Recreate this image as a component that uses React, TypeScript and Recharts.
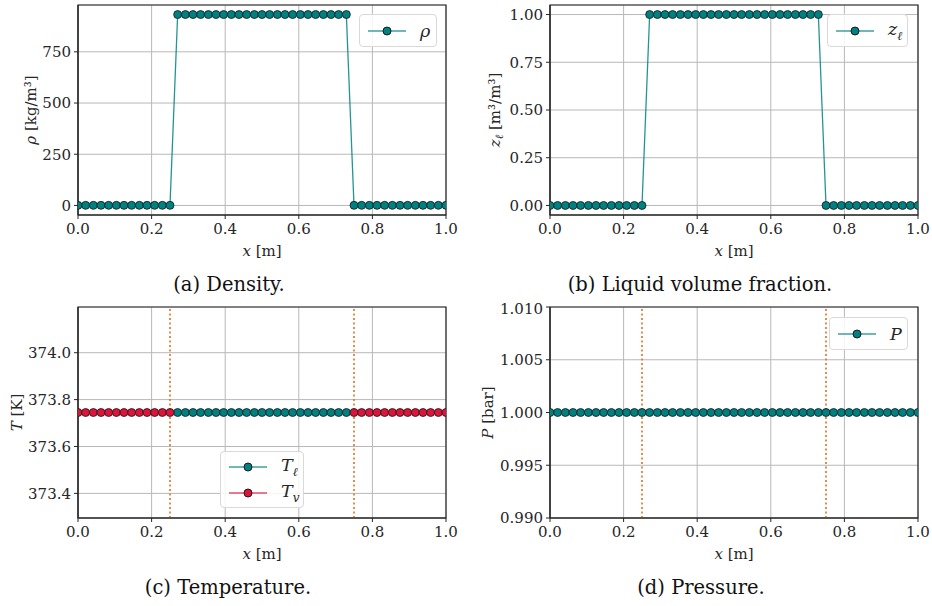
import React from "react";
import {
  LineChart,
  Line,
  XAxis,
  YAxis,
  CartesianGrid,
  ReferenceLine,
  ReferenceArea,
  Label,
} from "recharts";

// ---------- data ----------
const xPositions = [
  0, 0.0208, 0.0417, 0.0625, 0.0833, 0.1042, 0.125, 0.1458, 0.1667, 0.1875,
  0.2083, 0.2292, 0.25, 0.2708, 0.2917, 0.3125, 0.3333, 0.3542, 0.375, 0.3958,
  0.4167, 0.4375, 0.4583, 0.4792, 0.5, 0.5208, 0.5417, 0.5625, 0.5833, 0.6042,
  0.625, 0.6458, 0.6667, 0.6875, 0.7083, 0.7292, 0.75, 0.7708, 0.7917, 0.8125,
  0.8333, 0.8542, 0.875, 0.8958, 0.9167, 0.9375, 0.9583, 0.9792, 1.0,
];

const density = [
  0.59, 0.59, 0.59, 0.59, 0.59, 0.59, 0.59, 0.59, 0.59, 0.59, 0.59, 0.59, 0.59,
  932, 932, 932, 932, 932, 932, 932, 932, 932, 932, 932, 932, 932, 932, 932, 932,
  932, 932, 932, 932, 932, 932, 932,
  0.59, 0.59, 0.59, 0.59, 0.59, 0.59, 0.59, 0.59, 0.59, 0.59, 0.59, 0.59, 0.59,
];

const liquidFraction = [
  0, 0, 0, 0, 0, 0, 0, 0, 0, 0, 0, 0, 0,
  1, 1, 1, 1, 1, 1, 1, 1, 1, 1, 1, 1, 1, 1, 1, 1, 1, 1, 1, 1, 1, 1, 1,
  0, 0, 0, 0, 0, 0, 0, 0, 0, 0, 0, 0, 0,
];

const N = null;
const tempLiquid = [
  N, N, N, N, N, N, N, N, N, N, N, N, N,
  373.745, 373.745, 373.745, 373.745, 373.745, 373.745, 373.745, 373.745,
  373.745, 373.745, 373.745, 373.745, 373.745, 373.745, 373.745, 373.745,
  373.745, 373.745, 373.745, 373.745, 373.745, 373.745, 373.745,
  N, N, N, N, N, N, N, N, N, N, N, N, N,
];

const tempVapor = [
  373.745, 373.745, 373.745, 373.745, 373.745, 373.745, 373.745, 373.745,
  373.745, 373.745, 373.745, 373.745, 373.745,
  N, N, N, N, N, N, N, N, N, N, N, N, N, N, N, N, N, N, N, N, N, N, N,
  373.745, 373.745, 373.745, 373.745, 373.745, 373.745, 373.745, 373.745,
  373.745, 373.745, 373.745, 373.745, 373.745,
];

const pressure = [
  1, 1, 1, 1, 1, 1, 1, 1, 1, 1, 1, 1, 1, 1, 1, 1, 1, 1, 1, 1, 1, 1, 1, 1, 1,
  1, 1, 1, 1, 1, 1, 1, 1, 1, 1, 1, 1, 1, 1, 1, 1, 1, 1, 1, 1, 1, 1, 1, 1,
];

const interfacePositions = [0.25, 0.75];

const xTicks = [0, 0.2, 0.4, 0.6, 0.8, 1.0];
const densityTicks = [0, 250, 500, 750];
const fractionTicks = [0, 0.25, 0.5, 0.75, 1.0];
const tempTicks = [373.4, 373.6, 373.8, 374.0];
const pressureTicks = [0.99, 0.995, 1.0, 1.005, 1.01];

const captions = [
  "(a) Density.",
  "(b) Liquid volume fraction.",
  "(c) Temperature.",
  "(d) Pressure.",
];

// ---------- style ----------
const FONT = "DejaVu Serif, Liberation Serif, serif";
const TEAL = "#008080";
const CRIMSON = "#dc143c";
const ORANGE = "#e07020";
const GRID = "#b8b8b8";
const INK = "#262626";
const TICK_FS = 15;

const rows = xPositions.map((x, i) => ({
  x,
  rho: density[i],
  z: liquidFraction[i],
  tl: tempLiquid[i],
  tv: tempVapor[i],
  p: pressure[i],
}));

const dotStyle = (fill: string) => ({
  r: 4,
  fill,
  stroke: "#111",
  strokeWidth: 0.9,
  fillOpacity: 1,
});

const tickStyle = { fontSize: TICK_FS, fill: INK, fontFamily: FONT };

function XLabel(props: any) {
  const vb = props.viewBox || {};
  const cx = vb.x + vb.width / 2;
  const y = vb.y + 41;
  return (
    <text x={cx} y={y} textAnchor="middle" fontFamily={FONT} fontSize={TICK_FS} fill={INK}>
      <tspan fontStyle="italic">x</tspan>
      <tspan> [m]</tspan>
    </text>
  );
}

function makeYLabel(offset: number, parts: React.ReactNode) {
  return function YLabel(props: any) {
    const vb = props.viewBox || {};
    const axisRight = vb.x + vb.width;
    const cx = axisRight - offset;
    const cy = vb.y + vb.height / 2;
    return (
      <text
        x={cx}
        y={cy}
        transform={`rotate(-90 ${cx} ${cy})`}
        textAnchor="middle"
        dominantBaseline="middle"
        fontFamily={FONT}
        fontSize={TICK_FS}
        fill={INK}
      >
        {parts}
      </text>
    );
  };
}

function LegendBox({
  items,
  style,
}: {
  items: { color: string; label: React.ReactNode }[];
  style: React.CSSProperties;
}) {
  return (
    <div
      style={{
        position: "absolute",
        boxSizing: "border-box",
        border: "1px solid #d9d9d9",
        borderRadius: 4,
        background: "rgba(255,255,255,0.85)",
        fontFamily: FONT,
        fontSize: 17.5,
        color: INK,
        ...style,
      }}
    >
      {items.map((it, i) => (
        <div key={i} style={{ display: "flex", alignItems: "center", height: 26 }}>
          <svg width={46} height={14} style={{ marginLeft: 6 }}>
            <line x1={2} y1={7} x2={40} y2={7} stroke={it.color} strokeOpacity={0.75} strokeWidth={1.5} />
            <circle cx={21} cy={7} r={4} fill={it.color} stroke="#111" strokeWidth={0.9} />
          </svg>
          <span style={{ marginLeft: 8, fontStyle: "italic" }}>{it.label}</span>
        </div>
      ))}
    </div>
  );
}

function Frame({ yDomain }: { yDomain: [number, number] }) {
  return (
    <ReferenceArea
      x1={0}
      x2={1}
      y1={yDomain[0]}
      y2={yDomain[1]}
      fill="none"
      stroke={INK}
      strokeWidth={1.2}
      ifOverflow="visible"
    />
  );
}

type PanelProps = {
  left: number;
  top: number;
  width: number;
  height: number;
  margin: { top: number; right: number; bottom: number; left: number };
  yWidth: number;
  yDomain: [number, number];
  yTicks: number[];
  yFmt: (v: number) => string;
  yLabel: (props: any) => React.ReactElement;
  series: { key: string; color: string }[];
  interfaces?: boolean;
  legend: React.ReactNode;
};

function Panel(p: PanelProps) {
  return (
    <div style={{ position: "absolute", left: p.left, top: p.top, width: p.width, height: p.height }}>
      <LineChart width={p.width} height={p.height} data={rows} margin={p.margin}>
        <CartesianGrid stroke={GRID} strokeWidth={1} />
        <XAxis
          type="number"
          dataKey="x"
          domain={[0, 1]}
          ticks={xTicks}
          tickFormatter={(v: number) => v.toFixed(1)}
          allowDataOverflow
          height={30}
          tick={tickStyle}
          tickSize={4}
          tickMargin={4}
          stroke={INK}
          tickLine={{ stroke: INK }}
          axisLine={{ stroke: INK, strokeWidth: 1.2 }}
        >
          <Label content={XLabel} position="bottom" />
        </XAxis>
        <YAxis
          type="number"
          domain={p.yDomain}
          ticks={p.yTicks}
          tickFormatter={p.yFmt}
          allowDataOverflow
          width={p.yWidth}
          tick={tickStyle}
          tickSize={4}
          tickMargin={3}
          stroke={INK}
          tickLine={{ stroke: INK }}
          axisLine={{ stroke: INK, strokeWidth: 1.2 }}
        >
          <Label content={p.yLabel} position="left" />
        </YAxis>
        {p.series.map((s) => (
          <Line
            key={s.key}
            type="linear"
            dataKey={s.key}
            stroke={s.color}
            strokeWidth={1.3}
            strokeOpacity={0.85}
            dot={dotStyle(s.color)}
            activeDot={false}
            connectNulls={false}
            isAnimationActive={false}
          />
        ))}
        {p.interfaces &&
          interfacePositions.map((x) => (
            <ReferenceLine
              key={x}
              x={x}
              stroke={ORANGE}
              strokeWidth={1.6}
              strokeDasharray="2 2.5"
              ifOverflow="visible"
            />
          ))}
        {Frame({ yDomain: p.yDomain })}
      </LineChart>
      {p.legend}
    </div>
  );
}

function Caption({ text, cx, cy }: { text: string; cx: number; cy: number }) {
  return (
    <div
      style={{
        position: "absolute",
        left: cx - 200,
        top: cy - 12,
        width: 400,
        textAlign: "center",
        fontFamily: FONT,
        fontSize: 19.5,
        color: "#111",
        lineHeight: "24px",
        whiteSpace: "nowrap",
      }}
    >
      {text}
    </div>
  );
}

export default function App() {
  return (
    <div
      style={{
        position: "absolute",
        left: 0,
        top: 0,
        width: 932,
        height: 606,
        background: "#fff",
        overflow: "hidden",
      }}
    >
      <Panel
        left={0}
        top={0}
        width={460}
        height={300}
        margin={{ top: 5, right: 14, bottom: 55, left: 0 }}
        yWidth={78}
        yDomain={[-46.6, 978.6]}
        yTicks={densityTicks}
        yFmt={(v) => String(v)}
        yLabel={makeYLabel(46, [
          <tspan key="a" fontStyle="italic">ρ</tspan>,
          <tspan key="b"> [kg/m³]</tspan>,
        ])}
        series={[{ key: "rho", color: TEAL }]}
        legend={
          <LegendBox
            items={[{ color: TEAL, label: "ρ" }]}
            style={{ left: 359, top: 14, width: 78, height: 33, paddingTop: 3 }}
          />
        }
      />
      <Panel
        left={460}
        top={0}
        width={472}
        height={300}
        margin={{ top: 5, right: 14, bottom: 55, left: 0 }}
        yWidth={90}
        yDomain={[-0.05, 1.05]}
        yTicks={fractionTicks}
        yFmt={(v) => v.toFixed(2)}
        yLabel={makeYLabel(54, [
          <tspan key="a" fontStyle="italic">z</tspan>,
          <tspan key="b" fontStyle="italic" fontSize={11} dy={4}>ℓ</tspan>,
          <tspan key="c" dy={-4}> [m³/m³]</tspan>,
        ])}
        series={[{ key: "z", color: TEAL }]}
        legend={
          <LegendBox
            items={[
              {
                color: TEAL,
                label: (
                  <span>
                    z<sub style={{ fontSize: 12 }}>ℓ</sub>
                  </span>
                ),
              },
            ]}
            style={{ left: 367, top: 14, width: 81, height: 33, paddingTop: 3 }}
          />
        }
      />
      <Panel
        left={0}
        top={300}
        width={460}
        height={306}
        margin={{ top: 7, right: 14, bottom: 58, left: 0 }}
        yWidth={78}
        yDomain={[373.295, 374.195]}
        yTicks={tempTicks}
        yFmt={(v) => v.toFixed(1)}
        yLabel={makeYLabel(60, [
          <tspan key="a" fontStyle="italic">T</tspan>,
          <tspan key="b"> [K]</tspan>,
        ])}
        series={[
          { key: "tl", color: TEAL },
          { key: "tv", color: CRIMSON },
        ]}
        interfaces
        legend={
          <LegendBox
            items={[
              {
                color: TEAL,
                label: (
                  <span>
                    T<sub style={{ fontSize: 12 }}>ℓ</sub>
                  </span>
                ),
              },
              {
                color: CRIMSON,
                label: (
                  <span>
                    T<sub style={{ fontSize: 12 }}>v</sub>
                  </span>
                ),
              },
            ]}
            style={{ left: 220, top: 151, width: 84, height: 57, paddingTop: 2 }}
          />
        }
      />
      <Panel
        left={460}
        top={300}
        width={472}
        height={306}
        margin={{ top: 7, right: 14, bottom: 58, left: 0 }}
        yWidth={90}
        yDomain={[0.99, 1.01]}
        yTicks={pressureTicks}
        yFmt={(v) => v.toFixed(3)}
        yLabel={makeYLabel(61, [
          <tspan key="a" fontStyle="italic">P</tspan>,
          <tspan key="b"> [bar]</tspan>,
        ])}
        series={[{ key: "p", color: TEAL }]}
        interfaces
        legend={
          <LegendBox
            items={[{ color: TEAL, label: "P" }]}
            style={{ left: 369, top: 17, width: 79, height: 33, paddingTop: 3 }}
          />
        }
      />
      <Caption text={captions[0]} cx={229} cy={285} />
      <Caption text={captions[1]} cx={700} cy={285} />
      <Caption text={captions[2]} cx={228} cy={588} />
      <Caption text={captions[3]} cx={701} cy={588} />
    </div>
  );
}
